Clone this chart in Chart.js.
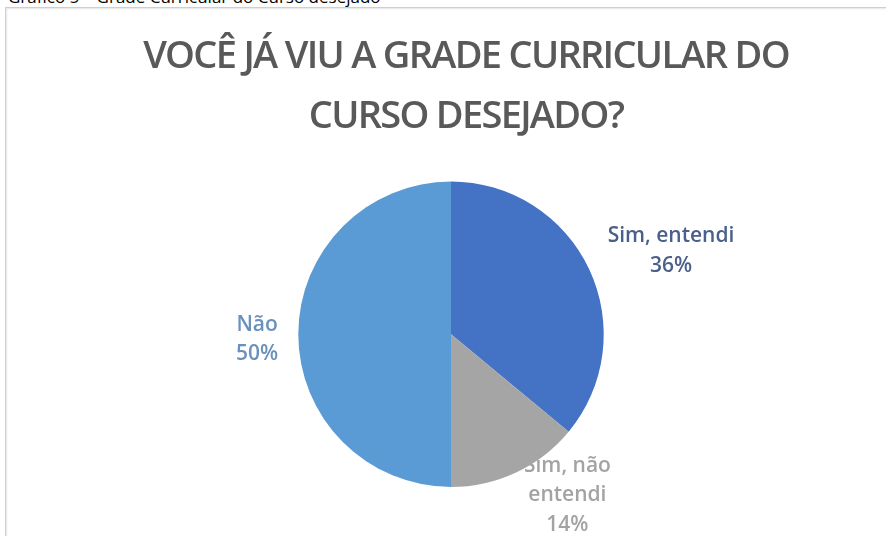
<!DOCTYPE html>
<html>
<head>
<meta charset="utf-8">
<script src="https://cdn.jsdelivr.net/npm/chart.js@4/dist/chart.umd.min.js"></script>
<style>
  html, body { margin: 0; padding: 0; background: #fff; width: 886px; height: 536px; overflow: hidden; }
  #caption { position: absolute; left: 8px; top: -12px; font: 17px "Open Sans", sans-serif; line-height: 17px; color: #000; white-space: nowrap; }
  #frame { position: absolute; left: 5px; top: 7px; width: 1000px; height: 700px; border: 1px solid #cfcfcf; box-shadow: inset 1px 1px 2px #e6e6e6; }
  #wrap { position: absolute; left: 0; top: 0; width: 886px; height: 536px; }
</style>
</head>
<body>
<div id="caption">Gráfico 5 – Grade Curricular do Curso desejado</div>
<div id="frame"></div>
<div id="wrap"><canvas id="c" width="886" height="536"></canvas></div>
<script>
const categories = ["Sim, entendi", "Sim, não entendi", "Não"];
const labelLines = [["Sim, entendi"], ["Sim, não", "entendi"], ["Não"]];
const values = [36, 14, 50];
const sliceColors = ["#4472C4", "#A5A5A5", "#5B9BD5"];
const labelColors = ["#4A5F8C", "#A3A3A3", "#6A90BC"];
const titleLines = ["VOCÊ JÁ VIU A GRADE CURRICULAR DO", "CURSO DESEJADO?"];

// label placement relative to each slice: angle shift (deg) and radius factor
const labelPlacement = [
  { dAngle: 4.5, k: 1.54 },
  { dAngle: -10.7, k: 1.30 },
  { dAngle: -1.5, k: 1.27 }
];

const titleSpacing = {
  id: 'titleSpacing',
  beforeDraw(chart) {
    chart.ctx.save();
    chart.ctx.translate(15, 0);
    chart.ctx.letterSpacing = '-1.7px';
  },
  beforeDatasetsDraw(chart) {
    chart.ctx.restore();
    chart.ctx.letterSpacing = '0px';
  }
};

const outsideLabels = {
  id: 'outsideLabels',
  beforeDatasetsDraw(chart) {
    const ctx = chart.ctx;
    const meta = chart.getDatasetMeta(0);
    const total = values.reduce((a, b) => a + b, 0);
    ctx.save();
    ctx.letterSpacing = '0px';
    ctx.font = '600 21px "Open Sans", sans-serif';
    ctx.textAlign = 'center';
    ctx.textBaseline = 'middle';
    meta.data.forEach((arc, i) => {
      const p = arc.getProps(['x', 'y', 'startAngle', 'endAngle', 'outerRadius'], true);
      const mid = (p.startAngle + p.endAngle) / 2 + labelPlacement[i].dAngle * Math.PI / 180;
      const r = p.outerRadius * labelPlacement[i].k;
      const cx = p.x + Math.cos(mid) * r;
      const cy = p.y + Math.sin(mid) * r;
      const lines = labelLines[i].concat([Math.round(values[i] / total * 100) + '%']);
      const lh = 29.5;
      const y0 = cy - (lines.length - 1) * lh / 2;
      ctx.fillStyle = labelColors[i];
      lines.forEach((t, j) => ctx.fillText(t, cx, y0 + j * lh));
    });
    ctx.restore();
  }
};

new Chart(document.getElementById('c'), {
  type: 'pie',
  data: {
    labels: categories,
    datasets: [{
      data: values,
      backgroundColor: sliceColors,
      borderColor: '#ffffff',
      borderWidth: 0
    }]
  },
  options: {
    responsive: false,
    animation: false,
    rotation: 0,
    layout: { padding: { top: 0, bottom: 49, left: 16, right: 0 } },
    plugins: {
      legend: { display: false },
      tooltip: { enabled: false },
      title: {
        display: true,
        text: titleLines,
        color: '#595959',
        font: { family: '"Open Sans", sans-serif', size: 38, weight: '600', lineHeight: 1.56 },
        padding: { top: 28, bottom: 35 }
      }
    }
  },
  plugins: [titleSpacing, outsideLabels]
});
</script>
</body>
</html>
